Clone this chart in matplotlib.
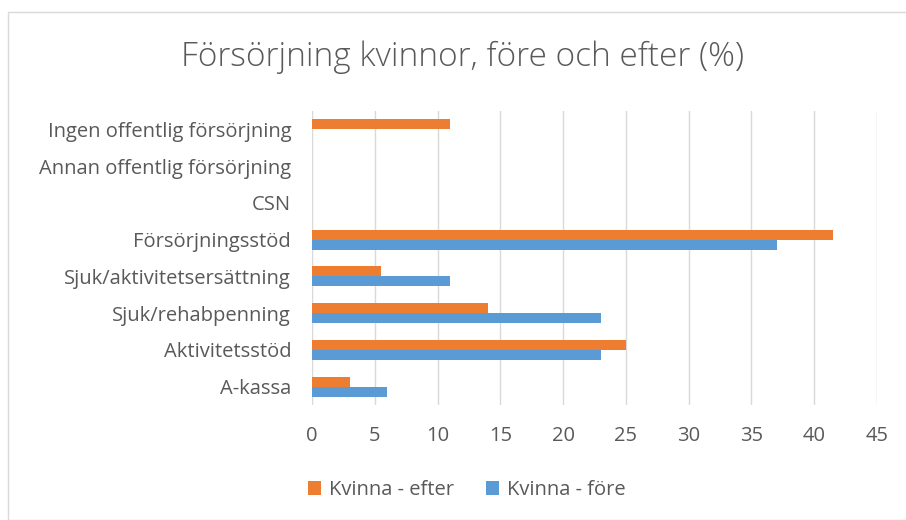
import matplotlib
matplotlib.use("Agg")
import matplotlib.pyplot as plt
from matplotlib.patches import Rectangle
import numpy as np

plt.rcParams['font.family'] = ['Open Sans', 'DejaVu Sans']

categories = ["A-kassa", "Aktivitetsstöd", "Sjuk/rehabpenning", "Sjuk/aktivitetsersättning",
              "Försörjningsstöd", "CSN", "Annan offentlig försörjning", "Ingen offentlig försörjning"]
efter = [3, 25, 14, 5.5, 41.5, 0, 0, 11]
fore = [6, 23, 23, 11, 37, 0, 0, 0]
xticks = [0, 5, 10, 15, 20, 25, 30, 35, 40, 45]

ORANGE = "#ED7D31"
BLUE = "#5B9BD5"
TXT = "#595959"
GRID = "#D9D9D9"

W, H = 906, 520
fig = plt.figure(figsize=(W / 100, H / 100), dpi=100)

# chart border
fig.patches.append(Rectangle((8 / W, 0), 1.0, 1 - 12 / H, transform=fig.transFigure,
                             fill=False, edgecolor=GRID, linewidth=1.0))

ax = fig.add_axes([312 / W, 1 - 405 / H, (877 - 312) / W, (405 - 111) / H])

y = np.arange(len(categories))
h = 0.27
ax.barh(y + h / 2, efter, height=h, color=ORANGE, label="Kvinna - efter", zorder=3)
ax.barh(y - h / 2, fore, height=h, color=BLUE, label="Kvinna - före", zorder=3)

ax.set_xlim(0, 45)
ax.set_ylim(-0.5, len(categories) - 0.5)
ax.set_xticks(xticks)
ax.set_xticklabels([str(t) for t in xticks])
ax.set_yticks(y)
ax.set_yticklabels(categories)
ax.xaxis.grid(True, color=GRID, linewidth=1.0, zorder=0)
ax.yaxis.grid(False)
for s in ax.spines.values():
    s.set_visible(False)
ax.tick_params(axis='both', length=0, colors=TXT, labelsize=14.5)
ax.tick_params(axis='y', pad=15)
ax.tick_params(axis='x', pad=15)

fig.text(463 / W, 1 - 57 / H, "Försörjning kvinnor, före och efter (%)", ha='center', va='center',
         fontsize=24, color=TXT, fontweight='light')

handles, labels = ax.get_legend_handles_labels()
fig.legend(handles, labels, loc='center', bbox_to_anchor=(467 / W, 1 - 490 / H), ncol=2,
           frameon=False, fontsize=14.5, labelcolor=TXT, handlelength=0.65, handleheight=0.65,
           handletextpad=0.4, columnspacing=1.6)

fig.savefig("out.png", dpi=100)
